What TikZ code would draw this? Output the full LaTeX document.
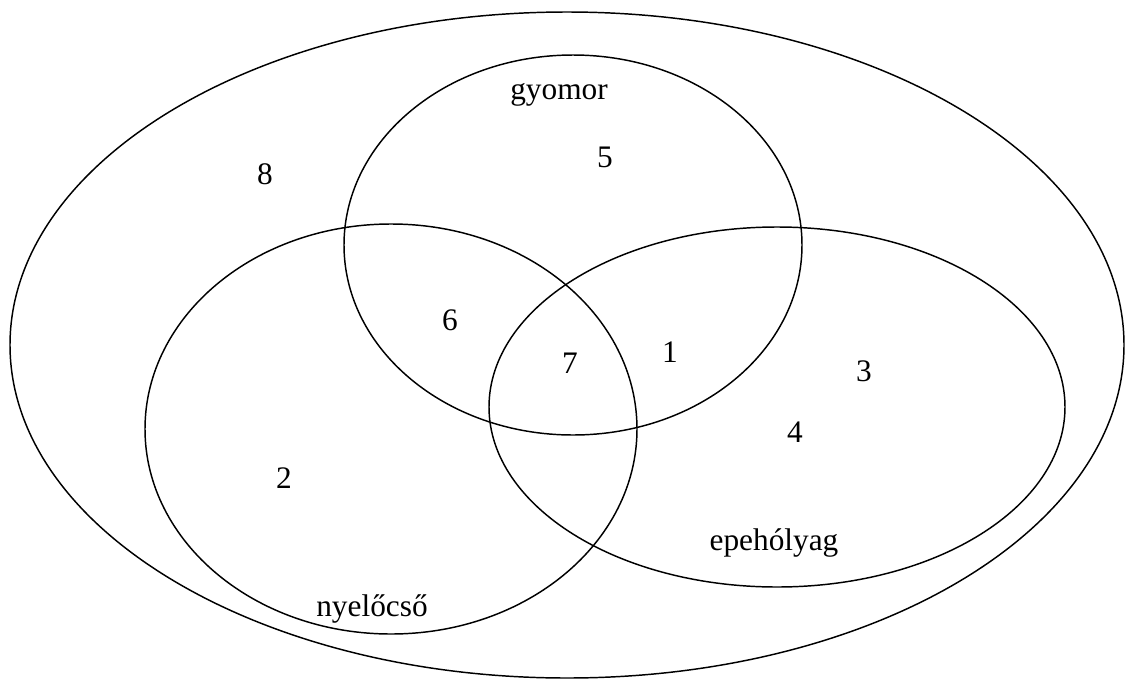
\documentclass[tikz,border=0pt]{standalone}
\usepackage{fontspec}
\setmainfont{Liberation Serif}
\usepackage{tikz}

\begin{document}
\begin{tikzpicture}[x=0.75pt,y=0.75pt,yscale=-1,xscale=1]
\tikzset{venn/.style={line width=1.1pt}, lbl/.style={inner sep=0.75pt, font=\fontsize{23.5}{28}\selectfont}}
\useasboundingbox (0,0) rectangle (1133,679);

%Shape: Ellipse (universe)
\draw [venn] (567,345) ellipse (557 and 333);
%Shape: Ellipse (gyomor)
\draw [venn] (573,245) ellipse (229 and 190);
%Shape: Ellipse (nyelocso)
\draw [venn] (391,429) ellipse (246 and 205);
%Shape: Ellipse (epeholyag)
\draw [venn] (777,407) ellipse (288 and 180);

% Text Node
\node [lbl] (gyomor) at (559,95) {gyomor};
% Text Node
\node [lbl] (nyelocso) at (372,609) {nyelőcső};
% Text Node
\node [lbl] (epeholyag) at (774,543) {epehólyag};
% Text Node
\node [lbl] (r1) at (670,352) {1};
\node [lbl] (r2) at (284,478) {2};
\node [lbl] (r3) at (864,371) {3};
\node [lbl] (r4) at (795,432) {4};
\node [lbl] (r5) at (605,157) {5};
\node [lbl] (r6) at (450,320) {6};
\node [lbl] (r7) at (570,363) {7};
\node [lbl] (r8) at (265,174) {8};

\end{tikzpicture}
\end{document}
